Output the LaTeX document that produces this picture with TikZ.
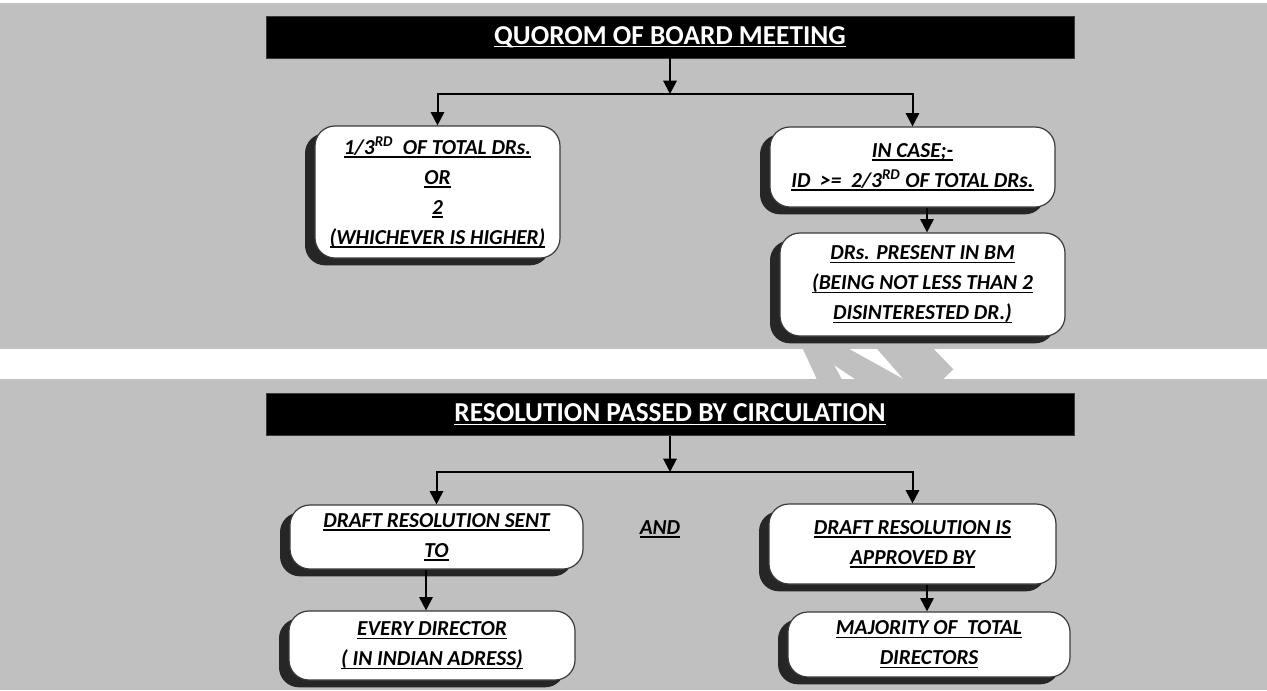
\documentclass[tikz,border=0pt]{standalone}
\usepackage{fontspec}
\setmainfont{Carlito}
\usetikzlibrary{arrows.meta,shadows}
\definecolor{panelgray}{HTML}{C0C0C0}
\definecolor{shadowgray}{HTML}{262626}
\definecolor{edgegray}{HTML}{3A3A3A}
% underline that sits just below the baseline
\newcommand{\ul}[1]{\setbox0\hbox{#1}\rlap{\rule[-2.4pt]{\wd0}{1.1pt}}\box0}

\begin{document}
\begin{tikzpicture}[x=0.75pt,y=-0.75pt,
  titlebar/.style={fill=black, draw=edgegray, line width=0.6pt, minimum width=606pt, minimum height=31.5pt,
    text=white, font=\fontsize{20.5}{24}\selectfont\bfseries},
  box/.style={draw=edgegray, line width=0.9pt, fill=white, rounded corners=15pt, align=center, inner sep=0pt,
    font=\fontsize{16}{22.5}\selectfont\bfseries\itshape,
    drop shadow={shadow xshift=-7.5pt, shadow yshift=-5.5pt, fill=shadowgray, opacity=1}},
  conn/.style={line width=1.5pt, -{Triangle[width=10pt,length=10pt]}},
  link/.style={line width=1.5pt}]
\useasboundingbox (0,0) rectangle (1267,690);
\fill[white] (0,0) rectangle (1267,690);
% the two panels
\fill[panelgray] (0,2.5) rectangle (1267,348.5);
\fill[panelgray] (0,379) rectangle (1267,690);
% arrow showing through the gap
\fill[panelgray] (802.7,348.5) -- (848.3,348.5) -- (903.3,379) -- (855,379) -- (834,365) -- (841.7,379) -- (816.7,379) -- cycle;
\fill[panelgray] (876.7,348.5) -- (933.3,348.5) -- (953.3,369.3) -- (943.3,379) -- (903.3,379) -- cycle;

% quorum
\node[titlebar] (quorum) at (670,37) {\ul{QUOROM OF BOARD MEETING}};
\node[box, minimum width=183.75pt, minimum height=99pt] (third) at (437.5,192)
  {\ul{1/3\textsuperscript{RD}\ \ OF TOTAL DRs.}\\ \ul{OR}\\ \ul{2}\\ \ul{(WHICHEVER IS HIGHER)}};
\node[box, minimum width=213.75pt, minimum height=60pt] (incase) at (912.5,167)
  {\ul{IN CASE;-}\\ \ul{ID\ \ >=\ \ 2/3\textsuperscript{RD} OF TOTAL DRs.}};
\node[box, minimum width=213.75pt, minimum height=77.25pt] (present) at (922.5,284.5)
  {\ul{DRs. PRESENT IN BM}\\ \ul{(BEING NOT LESS THAN 2}\\ \ul{DISINTERESTED DR.)}};

% circulation
\node[titlebar] (circ) at (670,414.5) {\ul{RESOLUTION PASSED BY CIRCULATION}};
\node[box, minimum width=219.75pt, minimum height=48pt] (sent) at (436.5,537)
  {\ul{DRAFT RESOLUTION SENT}\\ \ul{TO}};
\node[box, minimum width=214.5pt, minimum height=51.75pt] (every) at (432,645.5)
  {\ul{EVERY DIRECTOR}\\ \ul{( IN INDIAN ADRESS)}};
\node[box, minimum width=215.25pt, minimum height=60pt] (approved) at (912.5,544)
  {\ul{DRAFT RESOLUTION IS}\\ \ul{APPROVED BY}};
\node[box, minimum width=211.5pt, minimum height=48.75pt] (majority) at (929,644.5)
  {\ul{MAJORITY OF\ \ TOTAL}\\ \ul{DIRECTORS}};
\node[font=\fontsize{16}{18}\selectfont\bfseries\itshape] (and) at (660,529) {\ul{AND}};

\coordinate (qsplit) at (670,94);
\coordinate (csplit) at (670,472);
\coordinate (lx) at (426,0);
\coordinate (rx) at (927,0);

\draw[conn] (quorum) -- (qsplit);
\draw[conn] (qsplit) -| (third.north);
\draw[conn] (qsplit) -| (incase.north);
\draw[conn] (incase.south -| rx) -- (present.north -| rx);

\draw[conn] (circ) -- (csplit);
\draw[conn] (csplit) -| (sent.north);
\draw[conn] (csplit) -| (approved.north);
\draw[conn] (sent.south -| lx) -- (every.north -| lx);
\draw[conn] (approved.south -| rx) -- (majority.north -| rx);
\end{tikzpicture}
\end{document}
